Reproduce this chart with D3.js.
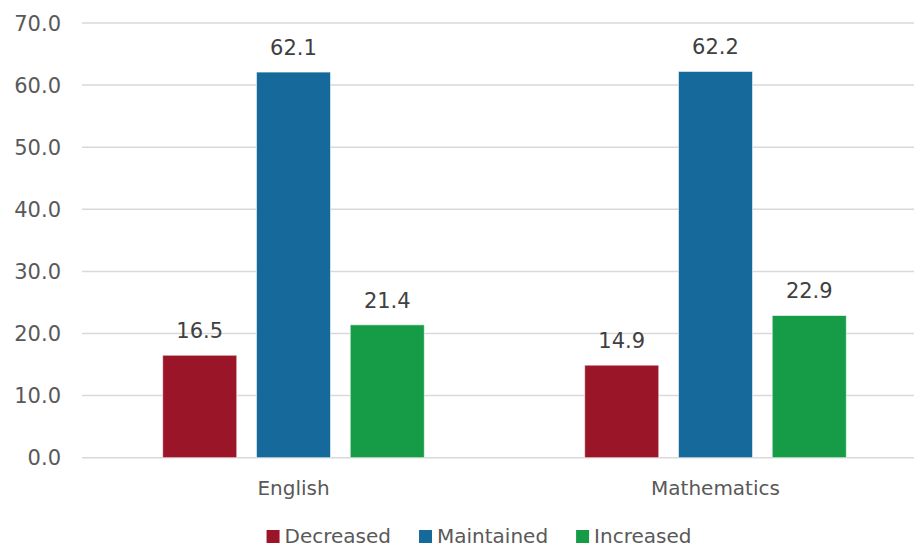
<!DOCTYPE html>
<html>
<head>
<meta charset="utf-8">
<script src="https://cdn.jsdelivr.net/npm/d3@7"></script>
<style>
  body { margin: 0; background: #fff; }
  svg { display: block; font-family: "DejaVu Sans", sans-serif; }
</style>
</head>
<body>
<svg id="chart" width="914" height="549"></svg>
<script>
// data
const subjects = ["English", "Mathematics"];
const seriesNames = ["Decreased", "Maintained", "Increased"];
const decreased = [16.5, 14.9];
const maintained = [62.1, 62.2];
const increased = [21.4, 22.9];
const yTicks = [0, 10, 20, 30, 40, 50, 60, 70];

const seriesValues = [decreased, maintained, increased];
const colors = ["#9b1529", "#166a9b", "#169b46"];
const textColor = "#595959";

const svg = d3.select("#chart");

const x = d3.scaleBand()
    .domain(subjects)
    .range([82.5, 926.5]);

const x1 = d3.scaleBand()
    .domain(seriesNames)
    .range([x.bandwidth() * 0.19, x.bandwidth() * 0.81])
    .paddingInner(0.21);

const y = d3.scaleLinear()
    .domain([0, 70])
    .range([457.7, 23]);

// gridlines
svg.append("g")
  .selectAll("line")
  .data(yTicks)
  .join("line")
    .attr("x1", 82)
    .attr("x2", 914)
    .attr("y1", d => y(d))
    .attr("y2", d => y(d))
    .attr("stroke", "#d9d9d9")
    .attr("stroke-width", 1.5);

// y tick labels
svg.append("g")
  .selectAll("text")
  .data(yTicks)
  .join("text")
    .attr("x", 61)
    .attr("y", d => y(d))
    .attr("dy", "0.36em")
    .attr("text-anchor", "end")
    .attr("fill", textColor)
    .style("font-size", "21px")
    .text(d => d.toFixed(1));

// bars
const rows = [];
subjects.forEach((s, i) => {
    seriesNames.forEach((n, j) => {
        rows.push({ subject: s, series: n, value: seriesValues[j][i], color: colors[j] });
    });
});

const groups = svg.append("g")
  .selectAll("g")
  .data(rows)
  .join("g")
    .attr("transform", d => `translate(${x(d.subject) + x1(d.series)},0)`);

groups.append("rect")
    .attr("x", 0)
    .attr("y", d => y(d.value))
    .attr("width", x1.bandwidth())
    .attr("height", d => y(0) - y(d.value))
    .attr("fill", d => d.color)
    .attr("stroke", "#ffffff")
    .attr("stroke-opacity", 0.6)
    .attr("stroke-width", 1);

groups.append("text")
    .attr("x", x1.bandwidth() / 2)
    .attr("y", d => y(d.value) - 17)
    .attr("text-anchor", "middle")
    .attr("fill", "#404040")
    .style("font-size", "21px")
    .text(d => d.value.toFixed(1));

// category labels
svg.append("g")
  .selectAll("text")
  .data(subjects)
  .join("text")
    .attr("x", d => x(d) + x.bandwidth() / 2)
    .attr("y", 495)
    .attr("text-anchor", "middle")
    .attr("fill", textColor)
    .style("font-size", "20px")
    .text(d => d);

// legend
const legend = svg.append("g");
const items = legend.selectAll("g")
  .data(seriesNames)
  .join("g");

items.append("rect")
    .attr("y", 530)
    .attr("width", 13)
    .attr("height", 13)
    .attr("fill", (d, i) => colors[i]);

items.append("text")
    .attr("x", 18)
    .attr("y", 543)
    .attr("fill", textColor)
    .style("font-size", "20px")
    .text(d => d);

let offset = 0;
const offsets = [];
items.each(function () {
    offsets.push(offset);
    offset += 18 + this.querySelector("text").getComputedTextLength() + 28;
});
const total = offset - 28;
const start = 479 - total / 2;
items.attr("transform", (d, i) => `translate(${start + offsets[i]},0)`);
</script>
</body>
</html>
